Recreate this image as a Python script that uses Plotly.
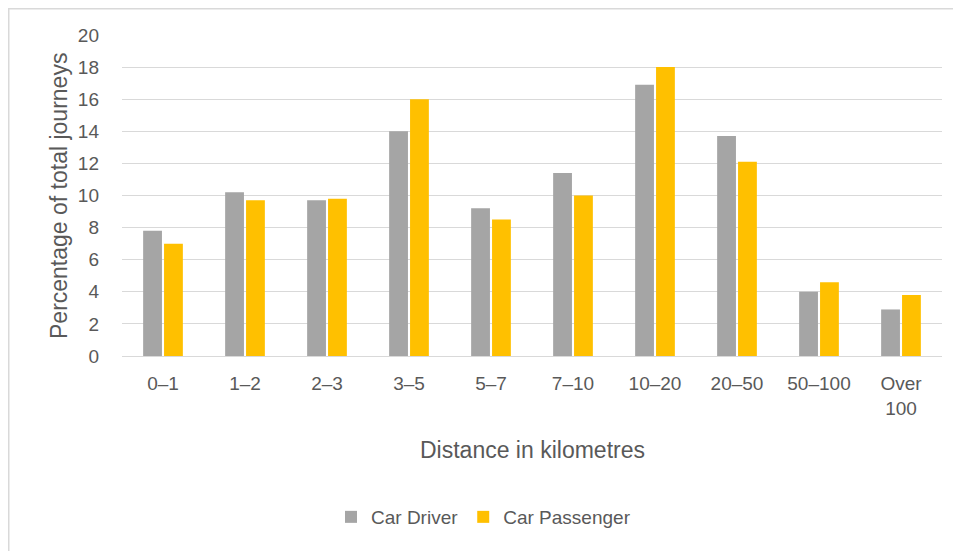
import plotly.graph_objects as go

categories = ["0\u20131", "1\u20132", "2\u20133", "3\u20135", "5\u20137", "7\u201310",
              "10\u201320", "20\u201350", "50\u2013100", "Over<br>100"]
car_driver = [7.8, 10.2, 9.7, 14.0, 9.2, 11.4, 16.9, 13.7, 4.0, 2.9]
car_passenger = [7.0, 9.7, 9.8, 16.0, 8.5, 10.0, 18.0, 12.1, 4.6, 3.8]
y_ticks = list(range(0, 21, 2))

TXT = "#595959"
FONT = "Liberation Sans, Arial, sans-serif"

fig = go.Figure()
fig.add_trace(go.Bar(name="Car Driver", x=categories, y=car_driver,
                     marker=dict(color="#A5A5A5", line=dict(width=0))))
fig.add_trace(go.Bar(name="Car Passenger", x=categories, y=car_passenger,
                     marker=dict(color="#FFC000", line=dict(width=0))))

# page body has an 8px margin; target positions below are window pixels
OFF = 8
W, H = 961 - OFF, 551 - OFF
L, R, T, B = 122, 942, 35, 356  # plot area in window pixels


def px(xw):
    return (xw - L) / (R - L)


def py(yw):
    return (B - yw) / (B - T)


fig.update_layout(
    width=W, height=H,
    margin=dict(l=L - OFF, r=(W + OFF) - R, t=T - OFF, b=(H + OFF) - B, pad=0),
    paper_bgcolor="white", plot_bgcolor="white",
    barmode="group", bargap=0.49, bargroupgap=0.1,
    font=dict(family=FONT, color=TXT, size=19),
    showlegend=True,
    legend=dict(orientation="h", x=px(331), xanchor="left",
                y=py(517), yanchor="middle",
                font=dict(size=19, color=TXT), bgcolor="rgba(0,0,0,0)",
                itemwidth=30, tracegroupgap=0),
    xaxis=dict(showgrid=False, showline=True, linecolor="#D9D9D9", linewidth=1,
               ticks="", tickfont=dict(size=19, color=TXT), ticklabelstandoff=10,
               fixedrange=True),
    yaxis=dict(range=[0, 20], tickvals=y_ticks, showgrid=True, gridcolor="#D9D9D9",
               gridwidth=1, zeroline=False, showline=False, ticks="",
               tickfont=dict(size=19, color=TXT), ticklabelstandoff=22,
               fixedrange=True),
    annotations=[
        dict(text="Distance in kilometres", xref="paper", yref="paper",
             x=0.5, y=py(450), xanchor="center", yanchor="middle",
             showarrow=False, font=dict(size=23, color=TXT)),
        dict(text="Percentage of total journeys", xref="paper", yref="paper",
             x=px(59), y=py(196), xanchor="center",
             yanchor="middle", textangle=-90, showarrow=False,
             font=dict(size=23, color=TXT)),
    ],
    shapes=[
        dict(type="line", xref="paper", yref="paper",
             x0=px(OFF), x1=px(961), y0=py(OFF + 0.5), y1=py(OFF + 0.5),
             line=dict(color="#D9D9D9", width=2)),
        dict(type="line", xref="paper", yref="paper",
             x0=px(OFF + 0.5), x1=px(OFF + 0.5), y0=py(OFF), y1=py(551),
             line=dict(color="#D9D9D9", width=2)),
    ],
)

fig.write_html("out.html", config={"displayModeBar": False})
